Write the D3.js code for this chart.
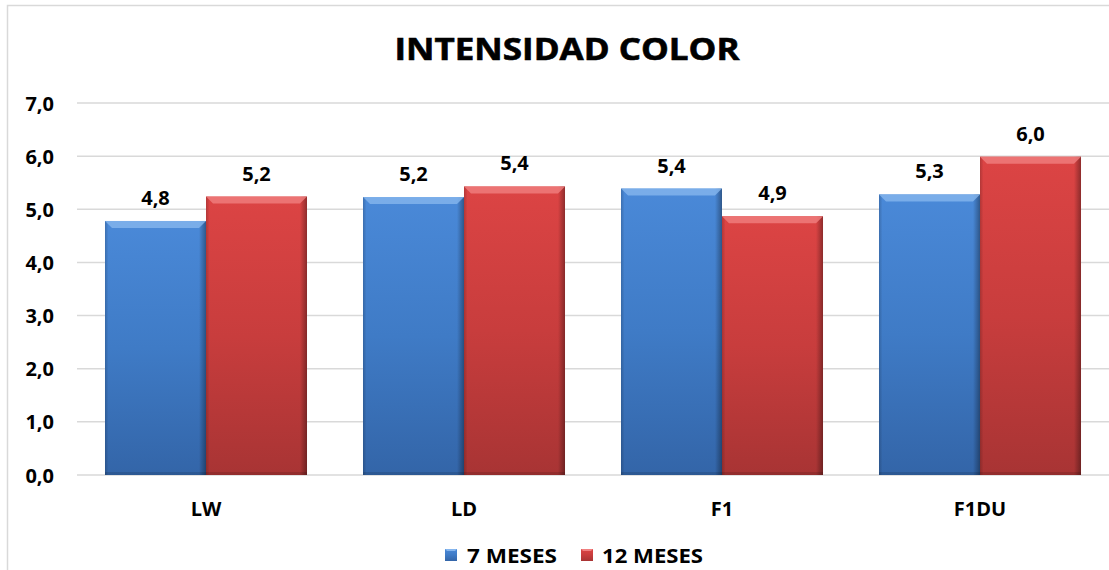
<!DOCTYPE html>
<html><head><meta charset="utf-8">
<script src="https://cdn.jsdelivr.net/npm/d3@7"></script>
<style>html,body{margin:0;padding:0;background:#fff;}svg{display:block;}</style>
</head><body>
<script>
const title = "INTENSIDAD COLOR";
const categories = ["LW", "LD", "F1", "F1DU"];
const seriesNames = ["7 MESES", "12 MESES"];
const values7 = [4.78, 5.23, 5.39, 5.28];
const values12 = [5.24, 5.43, 4.87, 5.99];
const yTicks = [0, 1, 2, 3, 4, 5, 6, 7];

const W = 1109, H = 570;
const FONT = "'Open Sans', 'DejaVu Sans', sans-serif";
const svg = d3.select("body").append("svg").attr("width", W).attr("height", H);

const defs = svg.append("defs");
function grad(id, stops) {
  const g = defs.append("linearGradient").attr("id", id).attr("x1", 0).attr("y1", 0).attr("x2", 0).attr("y2", 1);
  stops.forEach(s => g.append("stop").attr("offset", s[0]).attr("stop-color", s[1]));
}
grad("gBlue", [[0, "#4a89d8"], [0.5, "#3f7bc6"], [1, "#3365a8"]]);
grad("gRed", [[0, "#dc4444"], [0.5, "#c83d3d"], [1, "#a83434"]]);
function hgrad(id, stops) {
  const g = defs.append("linearGradient").attr("id", id).attr("x1", 0).attr("y1", 0).attr("x2", 1).attr("y2", 0);
  stops.forEach(s => g.append("stop").attr("offset", s[0]).attr("stop-color", s[1]).attr("stop-opacity", s[2]));
}
hgrad("gSide", [[0, "#000", 0.18], [0.035, "#000", 0.0], [0.93, "#000", 0.0], [1, "#000", 0.35]]);

// chart border
svg.append("path").attr("d", `M7.5,${H} L7.5,5.5 L${W},5.5`).attr("fill", "none").attr("stroke", "#d9d9d9").attr("stroke-width", 1.5);

const x0 = 77, x1 = 1109, yTop = 103, yBot = 475;
const y = d3.scaleLinear().domain([0, 7]).range([yBot, yTop]);
const x = d3.scaleBand().domain(categories).range([x0, x1]).paddingInner(0.217).paddingOuter(0.1085);
const xs = d3.scaleBand().domain(seriesNames).range([0, x.bandwidth()]);

// gridlines
svg.append("g").selectAll("line").data(yTicks).join("line")
  .attr("x1", x0).attr("x2", x1).attr("y1", d => y(d)).attr("y2", d => y(d))
  .attr("stroke", "#d9d9d9").attr("stroke-width", 1.5);

// y axis labels
const yAxis = d3.axisLeft(y).tickValues(yTicks).tickSize(0).tickPadding(0)
  .tickFormat(d => d3.format(".1f")(d).replace(".", ","));
const gy = svg.append("g").attr("transform", "translate(54,0)").call(yAxis);
gy.select(".domain").remove();
gy.selectAll("text").attr("font-family", FONT).attr("font-weight", "bold").attr("font-size", 20).attr("fill", "#000").attr("dy", "0.35em");

// x axis labels
const xAxis = d3.axisBottom(x).tickSize(0).tickPadding(0);
const gx = svg.append("g").attr("transform", `translate(0,${yBot})`).call(xAxis);
gx.select(".domain").remove();
gx.selectAll("text").attr("font-family", FONT).attr("font-weight", "bold").attr("font-size", 20).attr("fill", "#000").attr("y", 41).attr("dy", 0);

const data = categories.map((c, i) => ({ c, vals: [{ s: seriesNames[0], v: values7[i] }, { s: seriesNames[1], v: values12[i] }] }));
const fills = { "7 MESES": "url(#gBlue)", "12 MESES": "url(#gRed)" };
const bevel = { "7 MESES": "#86b6ee", "12 MESES": "#f08080" };

const groups = svg.append("g").selectAll("g").data(data).join("g")
  .attr("transform", d => `translate(${x(d.c)},0)`);
const bars = groups.selectAll("g.bar").data(d => d.vals).join("g").attr("class", "bar");
bars.append("rect")
  .attr("x", d => xs(d.s)).attr("y", d => y(d.v))
  .attr("width", xs.bandwidth()).attr("height", d => y(0) - y(d.v))
  .attr("fill", d => fills[d.s]);
bars.append("rect")
  .attr("x", d => xs(d.s)).attr("y", d => y(d.v))
  .attr("width", xs.bandwidth()).attr("height", d => y(0) - y(d.v))
  .attr("fill", "url(#gSide)");
// top bevel
bars.append("path")
  .attr("d", d => {
    const bx = xs(d.s), by = y(d.v), bw = xs.bandwidth(), b = 7;
    return `M${bx},${by} L${bx + bw},${by} L${bx + bw - b},${by + b} L${bx + b},${by + b} Z`;
  })
  .attr("fill", d => bevel[d.s]).attr("opacity", 0.8);
// bottom dark edge
bars.append("rect")
  .attr("x", d => xs(d.s)).attr("y", y(0) - 3)
  .attr("width", xs.bandwidth()).attr("height", 3)
  .attr("fill", "#000").attr("opacity", 0.12);
// value labels
bars.append("text")
  .attr("x", d => xs(d.s) + xs.bandwidth() / 2).attr("y", d => y(d.v) - 16)
  .attr("text-anchor", "middle")
  .attr("font-family", FONT).attr("font-weight", "bold").attr("font-size", 20).attr("fill", "#000")
  .text(d => d3.format(".1f")(d.v).replace(".", ","));

// title
svg.append("text").attr("x", 567).attr("y", 60).attr("text-anchor", "middle")
  .attr("font-family", FONT).attr("font-weight", "bold").attr("font-size", 31).attr("fill", "#000")
  .attr("stroke", "#000").attr("stroke-width", 0.6)
  .attr("textLength", 345).attr("lengthAdjust", "spacingAndGlyphs")
  .text(title);

// legend
const legendItems = [
  { s: seriesNames[0], sx: 445, tx: 467, tw: 90, fill: "url(#gBlue)", bev: "#86b6ee" },
  { s: seriesNames[1], sx: 581, tx: 602, tw: 101, fill: "url(#gRed)", bev: "#f08080" }
];
const lg = svg.append("g").selectAll("g").data(legendItems).join("g");
lg.append("rect").attr("x", d => d.sx).attr("y", 549).attr("width", 12).attr("height", 12).attr("fill", d => d.fill);
lg.append("path").attr("d", d => `M${d.sx},549 L${d.sx + 12},549 L${d.sx + 10},551 L${d.sx + 2},551 Z`).attr("fill", d => d.bev);
lg.append("text").attr("x", d => d.tx).attr("y", 563)
  .attr("font-family", FONT).attr("font-weight", "bold").attr("font-size", 20).attr("fill", "#000")
  .attr("textLength", d => d.tw).attr("lengthAdjust", "spacingAndGlyphs")
  .text(d => d.s);
</script>
</body></html>
